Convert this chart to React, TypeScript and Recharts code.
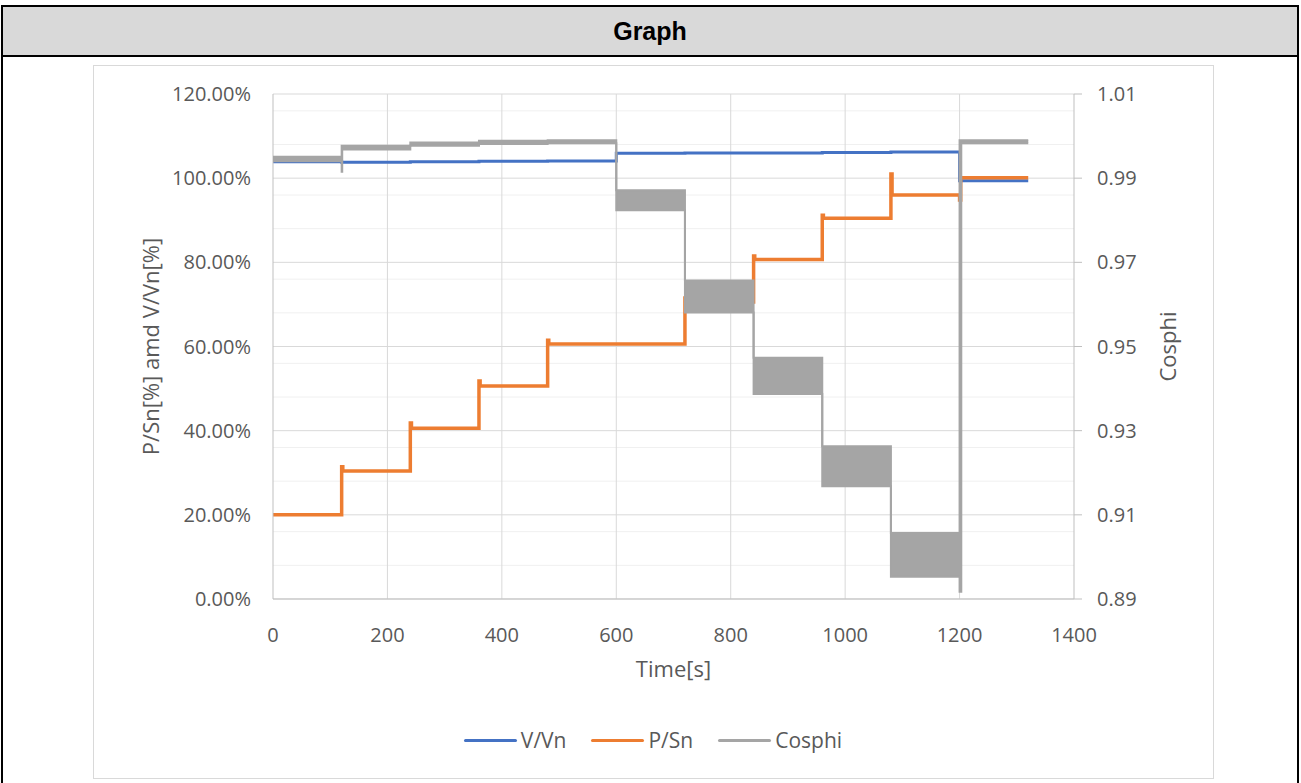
import React from 'react';
import { ComposedChart, Line, Area, XAxis, YAxis, CartesianGrid, Label } from 'recharts';

const FONT = '"Open Sans", sans-serif';

// axis ticks
const timeTicks = [0, 200, 400, 600, 800, 1000, 1200, 1400];
const leftTicks = [0, 20, 40, 60, 80, 100, 120];
const leftMinor = [4, 8, 12, 16, 24, 28, 32, 36, 44, 48, 52, 56, 64, 68, 72, 76, 84, 88, 92, 96, 104, 108, 112, 116];
const gridTimes = [200, 400, 600, 800, 1000, 1200];
const rightTicks = [0.89, 0.91, 0.93, 0.95, 0.97, 0.99, 1.01];

// V/Vn [%]
const vvnTime = [0, 120, 240, 360, 480, 600, 720, 840, 960, 1080, 1200, 1320];
const vvnValue = [103.9, 103.8, 103.9, 104.0, 104.1, 105.9, 106.0, 106.0, 106.1, 106.2, 99.4, 99.4];

// P/Sn [%] (with the small overshoot at each step)
const psnTime = [0, 120, 122, 240, 242, 360, 362, 480, 482, 720, 722, 840, 842, 960, 962, 1080, 1082, 1200, 1202, 1320];
const psnValue = [20.0, 31.4, 30.4, 41.8, 40.6, 51.8, 50.6, 61.5, 60.6, 71.5, 70.6, 81.5, 80.7, 91.2, 90.5, 101.0, 96.0, 94.8, 100.1, 100.1];

// Cosphi: noisy signal, kept as min / max per step
const cosTime = [0, 120, 121, 240, 360, 480, 600, 720, 840, 960, 1080, 1200, 1203, 1320];
const cosLow = [0.9940, 0.9915, 0.9968, 0.9977, 0.9981, 0.9983, 0.9824, 0.9581, 0.9387, 0.9168, 0.8953, 0.8917, 0.9983, 0.9983];
const cosHigh = [0.9951, 0.9977, 0.9977, 0.9985, 0.9989, 0.9990, 0.9871, 0.9657, 0.9473, 0.9263, 0.9057, 0.9990, 0.9990, 0.9990];

const vvnData = vvnTime.map((t, i) => ({ t, v: vvnValue[i] }));
const psnData = psnTime.map((t, i) => ({ t, v: psnValue[i] }));
const cosData = cosTime.map((t, i) => ({ t, band: [cosLow[i], cosHigh[i]] }));

const legendItems = [
  { name: 'V/Vn', color: '#4472C4' },
  { name: 'P/Sn', color: '#ED7D31' },
  { name: 'Cosphi', color: '#A5A5A5' },
];

const tickStyle = { fill: '#595959', fontSize: 20, fontFamily: FONT };
const titleStyle = { fill: '#595959', fontSize: 22, fontFamily: FONT };

export default function App() {
  return (
    <div style={{ position: 'absolute', left: 0, top: 0, width: 1301, height: 783, background: '#fff', overflow: 'hidden' }}>
      {/* table frame */}
      <div style={{ position: 'absolute', left: 1, top: 5, width: 1298, height: 820, border: '2px solid #000', boxSizing: 'border-box' }} />
      <div
        style={{
          position: 'absolute', left: 3, top: 7, width: 1294, height: 48, background: '#d9d9d9',
          borderBottom: '2px solid #000', display: 'flex', alignItems: 'center', justifyContent: 'center',
          fontFamily: '"Liberation Sans", Arial, sans-serif', fontWeight: 'bold', fontSize: 25, color: '#000',
        }}
      >
        Graph
      </div>

      {/* chart frame */}
      <div style={{ position: 'absolute', left: 93, top: 65, width: 1121, height: 714, border: '1px solid #d9d9d9', boxSizing: 'border-box' }} />

      <div style={{ position: 'absolute', left: 93, top: 65 }}>
        <ComposedChart width={1120} height={713} margin={{ top: 29, right: 49, bottom: 119, left: 60 }}>
          <CartesianGrid yAxisId="left" stroke="#f0f0f0" vertical={false} horizontalValues={leftMinor} />
          <CartesianGrid yAxisId="left" stroke="#d9d9d9" horizontalValues={leftTicks} verticalValues={gridTimes} />
          <XAxis
            type="number"
            dataKey="t"
            domain={[0, 1400]}
            ticks={timeTicks}
            allowDataOverflow
            height={60}
            stroke="#bfbfbf"
            tickLine={false}
            tickSize={0}
            tickMargin={29}
            tick={tickStyle}
          >
            <Label
              content={(props: any) => {
                const vb = props.viewBox || { x: 180, y: 534, width: 801, height: 60 };
                return (
                  <text x={vb.x + vb.width / 2} y={vb.y + 69} textAnchor="middle" dominantBaseline="central" style={titleStyle}>
                    Time[s]
                  </text>
                );
              }}
            />
          </XAxis>
          <YAxis
            yAxisId="left"
            orientation="left"
            domain={[0, 120]}
            ticks={leftTicks}
            width={120}
            stroke="#bfbfbf"
            tickLine={false}
            tickSize={0}
            tickMargin={22}
            tick={tickStyle}
            tickFormatter={(v: number) => `${v.toFixed(2)}%`}
          >
            <Label
              content={(props: any) => {
                const vb = props.viewBox || { x: 60, y: 29, width: 120, height: 505 };
                const cx = vb.x - 3;
                const cy = vb.y + vb.height / 2;
                return (
                  <text x={cx} y={cy} transform={`rotate(-90 ${cx} ${cy})`} textAnchor="middle" dominantBaseline="central" style={titleStyle}>
                    P/Sn[%] amd V/Vn[%]
                  </text>
                );
              }}
            />
          </YAxis>
          <YAxis
            yAxisId="right"
            orientation="right"
            domain={[0.89, 1.01]}
            ticks={rightTicks}
            allowDataOverflow
            width={90}
            stroke="#bfbfbf"
            tickLine={{ stroke: '#bfbfbf' }}
            tickSize={8}
            tickMargin={15}
            tick={tickStyle}
            tickFormatter={(v: number) => v.toFixed(2)}
          >
            <Label
              content={(props: any) => {
                const vb = props.viewBox || { x: 981, y: 29, width: 90, height: 505 };
                const cx = vb.x + 93;
                const cy = vb.y + vb.height / 2;
                return (
                  <text x={cx} y={cy} transform={`rotate(-90 ${cx} ${cy})`} textAnchor="middle" dominantBaseline="central" style={titleStyle}>
                    Cosphi
                  </text>
                );
              }}
            />
          </YAxis>

          <Line
            yAxisId="left"
            data={vvnData}
            dataKey="v"
            name="V/Vn"
            type="stepAfter"
            stroke="#4472C4"
            strokeWidth={3}
            dot={false}
            isAnimationActive={false}
          />
          <Line
            yAxisId="left"
            data={psnData}
            dataKey="v"
            name="P/Sn"
            type="stepAfter"
            stroke="#ED7D31"
            strokeWidth={3.5}
            dot={false}
            isAnimationActive={false}
          />
          <Area
            yAxisId="right"
            data={cosData}
            dataKey="band"
            name="Cosphi"
            type="stepAfter"
            stroke="#A5A5A5"
            strokeWidth={2}
            fill="#A5A5A5"
            fillOpacity={1}
            dot={false}
            activeDot={false}
            isAnimationActive={false}
            zIndex={500}
          />
        </ComposedChart>
      </div>

      {/* legend */}
      <div
        style={{
          position: 'absolute', left: 93, top: 727, width: 1120, height: 26, display: 'flex',
          justifyContent: 'center', alignItems: 'center', gap: 25, fontFamily: FONT, fontSize: 21, color: '#595959',
        }}
      >
        {legendItems.map((item) => (
          <div key={item.name} style={{ display: 'flex', alignItems: 'center' }}>
            <div style={{ width: 53, height: 3, borderRadius: 2, background: item.color, marginRight: 4 }} />
            <span>{item.name}</span>
          </div>
        ))}
      </div>
    </div>
  );
}
